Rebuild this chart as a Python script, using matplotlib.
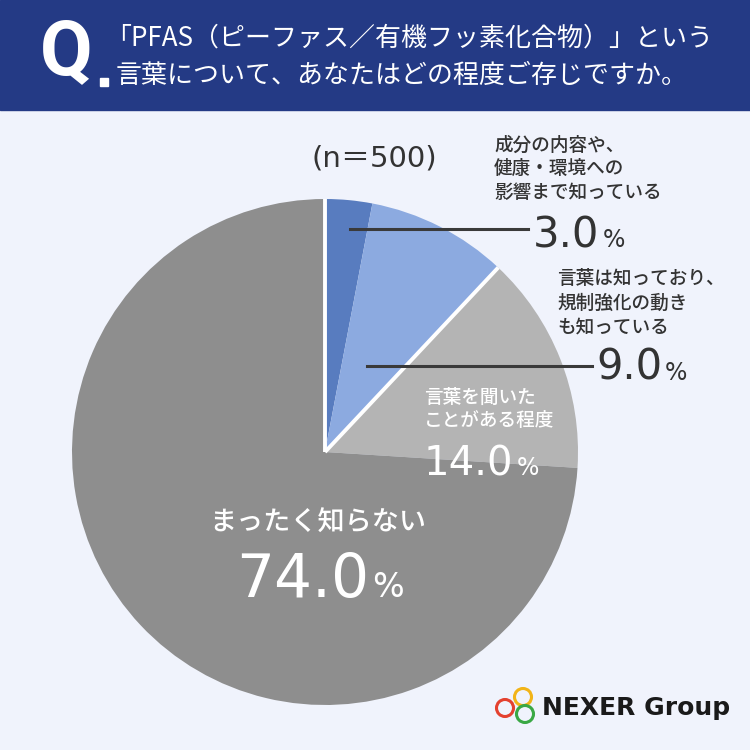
import matplotlib.pyplot as plt
from matplotlib.patches import Rectangle, Circle
import numpy as np

plt.rcParams['font.family'] = ['Noto Sans CJK JP', 'DejaVu Sans']

# data
question = ['「PFAS（ピーファス／有機フッ素化合物）」という',
            '言葉について、あなたはどの程度ご存じですか。']
sample_size = 500
categories = [
    ['成分の内容や、', '健康・環境への', '影響まで知っている'],
    ['言葉は知っており、', '規制強化の動き', 'も知っている'],
    ['言葉を聞いた', 'ことがある程度'],
    ['まったく知らない'],
]
shares = [3.0, 9.0, 14.0, 74.0]
colors = ['#587cbf', '#8caae0', '#b4b4b4', '#8e8e8e']

BG = '#f0f3fc'
NAVY = '#243a85'
DARK = '#333333'


def Y(y):
    # pixel from top -> data y
    return 750 - y


fig = plt.figure(figsize=(7.5, 7.5), dpi=100, facecolor=BG)
ax = fig.add_axes([0, 0, 1, 1])
ax.set_facecolor(BG)

# pie
cx, cy, r = 325, Y(452), 253
ax.pie(shares, colors=colors, startangle=90, counterclock=False,
       center=(cx, cy), radius=r, wedgeprops=dict(linewidth=0))

# white separators: top and between "know" group and "don't know" group
for frac in [0.0, (shares[0] + shares[1]) / 100]:
    ang = np.deg2rad(90 - 360 * frac)
    ax.plot([cx, cx + r * np.cos(ang)], [cy, cy + r * np.sin(ang)],
            color='white', lw=2.8, solid_capstyle='butt')

ax.set_xlim(0, 750)
ax.set_ylim(0, 750)
ax.set_aspect('equal')
ax.axis('off')

# header
ax.add_patch(Rectangle((0, Y(110)), 750, 110, color=NAVY, zorder=3))
ax.text(40, Y(54), 'Q', color='white', fontsize=55, fontweight='bold',
        family='Roboto', ha='left', va='center', zorder=4)
ax.add_patch(Rectangle((100, Y(86)), 8, 8, color='white', zorder=4))
ax.text(105, Y(38), question[0], color='white', fontsize=18.7,
        ha='left', va='center', zorder=4)
ax.text(116, Y(75), question[1], color='white', fontsize=18.7,
        ha='left', va='center', zorder=4)

# sample size
ax.text(311, Y(158), f'(n＝{sample_size})', color=DARK, fontsize=21,
        ha='left', va='center', family=['DejaVu Sans', 'Noto Sans CJK JP'])

fig.canvas.draw()
renderer = fig.canvas.get_renderer()


# labels
def label_lines(lines, x, ys, color, size=13.4):
    for line, yy in zip(lines, ys):
        ax.text(x, Y(yy), line, color=color, fontsize=size,
                fontweight='medium', ha='left', va='center')


def pct(value, x, base, color, size, psize):
    t = ax.text(x, Y(base), f'{value:.1f}', color=color, fontsize=size,
                family='DejaVu Sans', ha='left', va='baseline')
    bb = t.get_window_extent(renderer)
    right = ax.transData.inverted().transform((bb.x1, bb.y0))[0]
    ax.text(right + 3, Y(base), '%', color=color, fontsize=psize,
            family='DejaVu Sans', ha='left', va='baseline')


label_lines(categories[0], 494, [145, 168, 192], DARK)
ax.plot([350, 528], [Y(229), Y(229)], color='#3a3a3a', lw=2.2)
pct(shares[0], 533, 247, DARK, 30, 17)

label_lines(categories[1], 557, [278, 303, 327], DARK)
ax.plot([367, 592], [Y(366), Y(366)], color='#3a3a3a', lw=2.2)
pct(shares[1], 596, 380, DARK, 30, 17)

label_lines(categories[2], 424, [397, 420], 'white')
pct(shares[2], 424, 475, 'white', 29, 17)

label_lines(categories[3], 209, [523], 'white', size=19.5)
pct(shares[3], 236, 597, 'white', 43, 24)

# logo
for (lx, ly), c in zip([(523, 697), (505, 708), (525, 714)],
                       ['#f2b418', '#e4412f', '#3aa845']):
    ax.add_patch(Circle((lx, Y(ly)), 8.5, fill=False, ec=c, lw=2.2, zorder=4))
ax.text(542, Y(708), 'NEXER Group', color='#1a1a1a', fontsize=18,
        fontweight='bold', family='DejaVu Sans', ha='left', va='center')

fig.savefig('out.png', dpi=100, facecolor=BG)
